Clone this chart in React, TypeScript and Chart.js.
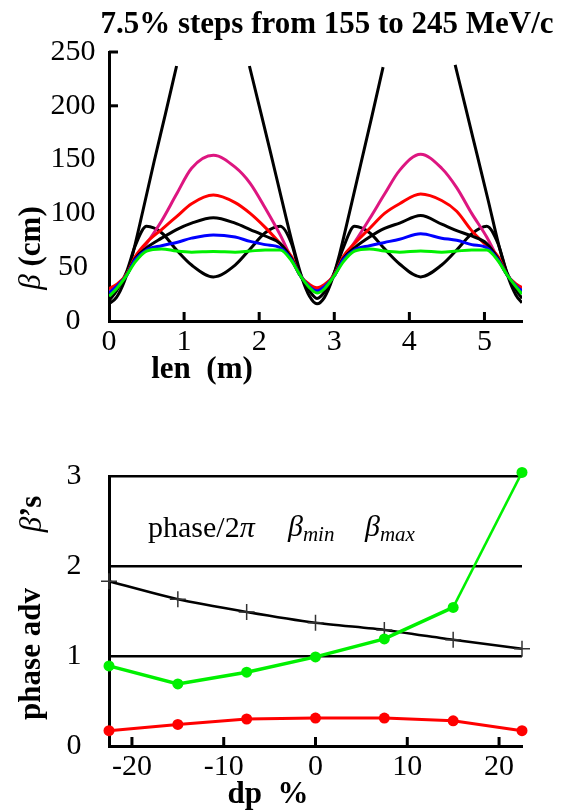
import React, { useEffect, useRef } from "react";
import { Chart, registerables } from "chart.js";
Chart.register(...registerables);

const SERIF = '"Liberation Serif", "Times New Roman", serif';

// ---------- top chart: beta functions vs length ----------
const lenX = [0, 0.1, 0.23, 0.35, 0.5, 0.7, 0.9, 1.1, 1.39, 1.68, 1.88, 2.08, 2.28, 2.43, 2.54, 2.67, 2.77,
  2.87, 3.0, 3.12, 3.27, 3.47, 3.67, 3.87, 4.15, 4.43, 4.63, 4.83, 5.03, 5.18, 5.3, 5.43, 5.5];
const betaGreen = [23, 30, 42, 55, 65, 67, 65, 64, 64.5, 64, 65, 66, 66, 56, 43, 31, 26,
  30, 42, 55, 65, 67, 65, 64, 65, 64, 65, 66, 66, 56, 43, 31, 25];
const betaBlue = [26, 32, 42, 57, 66, 70, 73, 77, 80, 78, 74, 71, 68, 57, 43, 32, 28,
  32, 42, 57, 66, 70, 73, 76, 81, 77, 75, 71, 68, 57, 43, 32, 28];
const betaBlackMid = [24, 31, 42, 58, 68, 77, 85, 91, 96, 91, 85, 79, 72, 58, 43, 31, 27,
  31, 42, 58, 68, 78, 86, 91, 98, 90, 84, 79, 72, 58, 43, 31, 27];
const betaBlackDip = [19, 28, 45, 70, 88, 82, 66, 52, 41, 52, 67, 82, 88, 72, 45, 28, 21,
  27, 45, 68, 88, 82, 67, 53, 41, 52, 66, 81, 88, 72, 45, 28, 21];
const betaRed = [30, 34, 43, 60, 73, 85, 97, 109, 117, 110, 100, 87, 72, 60, 43, 34, 31,
  34, 43, 60, 72, 86, 100, 109, 118, 112, 102, 84, 70, 60, 43, 34, 31];
const betaMagenta = [28, 33, 43, 58, 72, 93, 118, 142, 154, 143, 128, 105, 80, 58, 43, 33, 30,
  33, 43, 58, 73, 95, 118, 140, 155, 142, 124, 100, 78, 58, 43, 33, 30];
const hugeX = [0, 0.1, 0.2, 0.3, 0.45, 0.6, 0.75, 0.9, 1.39, 1.87, 2.0, 2.15, 2.3, 2.45, 2.57, 2.67, 2.77,
  2.87, 2.97, 3.07, 3.2, 3.35, 3.5, 3.65, 4.13, 4.61, 4.75, 4.9, 5.05, 5.2, 5.32, 5.42, 5.5];
const betaHuge = [16, 22, 36, 58, 102, 148, 192, 237, null, 237, 200, 157, 113, 70, 40, 23, 16,
  22, 38, 62, 100, 145, 190, 236, null, 238, 198, 155, 112, 68, 40, 24, 17];
const topYTickMarks = [200, 250];

// ---------- bottom chart: phase advance & betas vs dp ----------
const dpX = [-22.5, -15, -7.5, 0, 7.5, 15, 22.5];
const phaseAdv = [1.83, 1.63, 1.49, 1.37, 1.29, 1.18, 1.08];
const betaMax = [0.89, 0.69, 0.82, 0.99, 1.19, 1.54, 3.04];
const betaMin = [0.17, 0.24, 0.30, 0.31, 0.31, 0.28, 0.17];

const pts = (xs: number[], ys: (number | null)[]) => xs.map((x, i) => ({ x, y: ys[i] }));

type Part = { text: string; font: string; dy?: number };
type Item = { parts: Part[]; x: number; y: number; rotate?: number; align?: "left" | "center" };

const richTextPlugin = (items: Item[]) => ({
  id: "richText",
  afterDraw(chart: any) {
    const ctx = chart.ctx;
    for (const it of items) {
      ctx.save();
      ctx.translate(it.x, it.y);
      if (it.rotate) ctx.rotate(it.rotate);
      ctx.textBaseline = "alphabetic";
      ctx.textAlign = "left";
      ctx.fillStyle = "#000";
      let total = 0;
      for (const p of it.parts) { ctx.font = p.font; total += ctx.measureText(p.text).width; }
      let cx = it.align === "left" ? 0 : -total / 2;
      for (const p of it.parts) {
        ctx.font = p.font;
        ctx.fillText(p.text, cx, p.dy || 0);
        cx += ctx.measureText(p.text).width;
      }
      ctx.restore();
    }
  },
});

const inwardTicks = (yMarks: number[] | null) => ({
  id: "inwardTicks",
  afterDraw(chart: any) {
    const { ctx, chartArea, scales } = chart;
    const xs = scales.x, ys = scales.y;
    ctx.save();
    ctx.strokeStyle = "#000";
    ctx.lineWidth = 3;
    for (const t of xs.ticks) {
      if (t.value === xs.min) continue;
      const px = xs.getPixelForValue(t.value);
      ctx.beginPath();
      ctx.moveTo(px, chartArea.bottom);
      ctx.lineTo(px, chartArea.bottom - 9);
      ctx.stroke();
    }
    if (yMarks) {
      for (const v of yMarks) {
        const py = ys.getPixelForValue(v);
        ctx.beginPath();
        ctx.moveTo(chartArea.left, py);
        ctx.lineTo(chartArea.left + 9, py);
        ctx.stroke();
      }
    }
    ctx.restore();
  },
});

const tickFont = { family: SERIF, size: 30, lineHeight: 1.2 };

function topConfig(): any {
  const line = (data: any, color: string) => ({
    data, borderColor: color, backgroundColor: color, borderWidth: 3, pointRadius: 0,
    cubicInterpolationMode: "monotone",
  });
  return {
    type: "line",
    data: {
      datasets: [
        line(pts(lenX, betaGreen), "#00f000"),
        line(pts(lenX, betaBlue), "#0000ff"),
        line(pts(lenX, betaBlackMid), "#000000"),
        line(pts(lenX, betaRed), "#ff0000"),
        line(pts(lenX, betaMagenta), "#dd1680"),
        line(pts(lenX, betaBlackDip), "#000000"),
        line(pts(hugeX, betaHuge), "#000000"),
      ],
    },
    options: {
      responsive: false,
      animation: false,
      layout: { padding: { left: 0, right: 45, top: 52, bottom: 29 } },
      plugins: { legend: { display: false }, tooltip: { enabled: false }, title: { display: false } },
      scales: {
        x: {
          type: "linear", min: 0, max: 5.5,
          afterFit: (s: any) => { s.height = 50; },
          grid: { display: true, drawOnChartArea: false, drawTicks: false },
          border: { display: true, color: "#000", width: 3 },
          ticks: { stepSize: 1, includeBounds: false, padding: 3, color: "#000", font: tickFont, maxRotation: 0, autoSkip: false },
        },
        y: {
          type: "linear", min: 0, max: 250,
          afterFit: (s: any) => { s.width = 109; },
          grid: { display: true, drawOnChartArea: false, drawTicks: false },
          border: { display: true, color: "#000", width: 3 },
          ticks: { stepSize: 50, padding: 13.5, crossAlign: "center", color: "#000", font: tickFont },
        },
      },
    },
    plugins: [
      inwardTicks(topYTickMarks),
      richTextPlugin([
        { parts: [{ text: "7.5% steps from 155 to 245 MeV/c", font: `bold 31px ${SERIF}` }], x: 327, y: 33 },
        { parts: [{ text: "len  (m)", font: `bold 31px ${SERIF}` }], x: 202, y: 378 },
        {
          parts: [{ text: "β", font: `italic 31px ${SERIF}` }, { text: " (cm)", font: `bold 31px ${SERIF}` }],
          x: 40, y: 248, rotate: -Math.PI / 2,
        },
      ]),
    ],
  };
}

function bottomConfig(): any {
  return {
    type: "line",
    data: {
      datasets: [
        {
          data: pts(dpX, betaMin), borderColor: "#ff0000", backgroundColor: "#ff0000", borderWidth: 3,
          pointRadius: 5.5, pointBorderWidth: 0, clip: false,
        },
        {
          data: pts(dpX, betaMax), borderColor: "#00f000", backgroundColor: "#00f000", borderWidth: 3.5,
          pointRadius: 5.5, pointBorderWidth: 0, clip: false,
          segment: { borderWidth: (c: any) => (c.p0DataIndex === 5 ? 2.5 : 3.5) },
        },
        {
          data: pts(dpX, phaseAdv), borderColor: "#000000", backgroundColor: "#000000", borderWidth: 2.5,
          pointStyle: "cross", pointRadius: 8, pointBorderWidth: 1.5, pointBorderColor: "#333",
          tension: 0.2, clip: false,
        },
      ],
    },
    options: {
      responsive: false,
      animation: false,
      layout: { padding: { left: 0, right: 45, top: 46, bottom: 15 } },
      plugins: { legend: { display: false }, tooltip: { enabled: false }, title: { display: false } },
      scales: {
        x: {
          type: "linear", min: -22.5, max: 22.5,
          afterFit: (s: any) => { s.height = 50; },
          grid: { display: true, drawOnChartArea: false, drawTicks: false },
          border: { display: true, color: "#000", width: 3 },
          ticks: { stepSize: 10, includeBounds: false, padding: 3, color: "#000", font: tickFont, maxRotation: 0, autoSkip: false },
        },
        y: {
          type: "linear", min: 0, max: 3,
          afterFit: (s: any) => { s.width = 109; },
          grid: { display: true, drawOnChartArea: true, drawTicks: false, color: "#000", lineWidth: 2.5 },
          border: { display: true, color: "#000", width: 3 },
          ticks: { stepSize: 1, padding: 27.5, crossAlign: "center", color: "#000", font: tickFont },
        },
      },
    },
    plugins: [
      inwardTicks(null),
      richTextPlugin([
        {
          parts: [{ text: "phase/2", font: `30px ${SERIF}` }, { text: "π", font: `italic 30px ${SERIF}` }],
          x: 148, y: 107, align: "left",
        },
        {
          parts: [{ text: "β", font: `italic 30px ${SERIF}` }, { text: "min", font: `italic 21px ${SERIF}`, dy: 5 }],
          x: 288, y: 106, align: "left",
        },
        {
          parts: [{ text: "β", font: `italic 30px ${SERIF}` }, { text: "max", font: `italic 21px ${SERIF}`, dy: 5 }],
          x: 365, y: 106, align: "left",
        },
        {
          parts: [{ text: "β", font: `italic 31px ${SERIF}` }, { text: "’s", font: `bold 31px ${SERIF}` }],
          x: 41, y: 84, rotate: -Math.PI / 2,
        },
        { parts: [{ text: "phase adv", font: `bold 31px ${SERIF}` }], x: 40, y: 224, rotate: -Math.PI / 2 },
        { parts: [{ text: "dp  %", font: `bold 31px ${SERIF}` }], x: 268, y: 373 },
      ]),
    ],
  };
}

export default function App() {
  const topRef = useRef<HTMLCanvasElement | null>(null);
  const botRef = useRef<HTMLCanvasElement | null>(null);
  useEffect(() => {
    const c1 = new Chart(topRef.current as HTMLCanvasElement, topConfig());
    const c2 = new Chart(botRef.current as HTMLCanvasElement, bottomConfig());
    return () => { c1.destroy(); c2.destroy(); };
  }, []);
  return (
    <div style={{ position: "absolute", left: 0, top: 0, width: 567, height: 811, background: "#fff" }}>
      <canvas ref={topRef} width={567} height={400} style={{ position: "absolute", left: 0, top: 0 }} />
      <canvas ref={botRef} width={567} height={381} style={{ position: "absolute", left: 0, top: 430 }} />
    </div>
  );
}
